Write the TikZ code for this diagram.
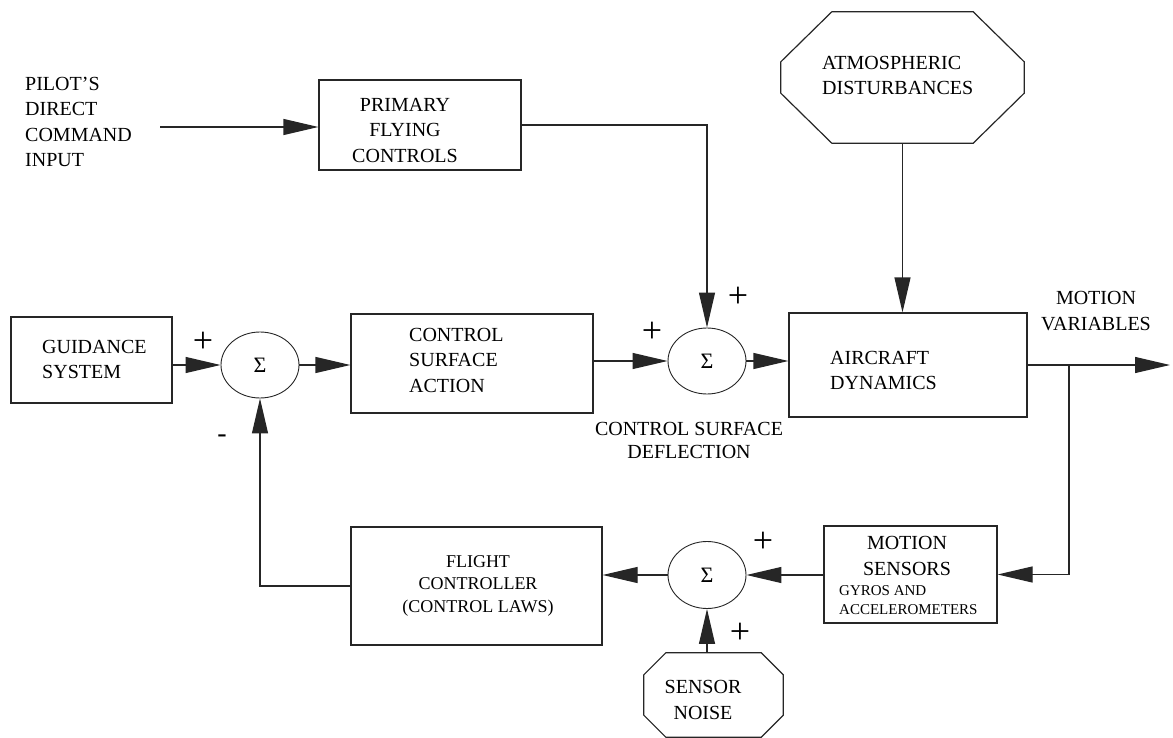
\documentclass[tikz,border=0pt]{standalone}
\usepackage{fontspec}
\setmainfont{Liberation Serif}
\usetikzlibrary{arrows.meta,shapes.geometric,calc}

\tikzset{
  ln/.style={draw=black!85, line width=1.2pt},
  arr/.style={ln, -{Triangle[length=35pt,width=16pt]}},
  blk/.style={draw=black!85, line width=1.2pt, rectangle, inner sep=0pt},
  octa/.style={rectangle, inner sep=0pt},
  sum/.style={draw=black!85, line width=0.9pt, ellipse, inner sep=0pt,
    minimum width=78pt, minimum height=66pt, font=\fontsize{22}{26}\selectfont},
  txt/.style={inner sep=0pt, font=\fontsize{20}{25.5}\selectfont},
  small/.style={inner sep=0pt, font=\fontsize{15}{19}\selectfont},
  sgn/.style={inner sep=0pt, font=\fontsize{36}{36}\selectfont},
}

% octagon outline around a named node: name, corner cut in x, corner cut in y
\newcommand\octbox[3]{%
  \draw[ln] ([xshift=#2]#1.north west) -- ([xshift=-#2]#1.north east)
    -- ([yshift=-#3]#1.north east) -- ([yshift=#3]#1.south east)
    -- ([xshift=-#2]#1.south east) -- ([xshift=#2]#1.south west)
    -- ([yshift=#3]#1.south west) -- ([yshift=-#3]#1.north west) -- cycle;}

\begin{document}
\begin{tikzpicture}[x=1pt,y=-1pt]
\path[use as bounding box] (0,0) rectangle (1173,738);

% blocks
\node[blk, minimum width=202pt, minimum height=90pt]  (pfc)  at (420,125) {};
\node[blk, minimum width=161pt, minimum height=86pt]  (guid) at (91.5,360) {};
\node[blk, minimum width=242pt, minimum height=99pt]  (csa)  at (472,363.5) {};
\node[blk, minimum width=238pt, minimum height=104pt] (acd)  at (908,365) {};
\node[blk, minimum width=173pt, minimum height=97pt]  (ms)   at (910.5,574.5) {};
\node[blk, minimum width=251pt, minimum height=118pt] (fc)   at (476.5,586) {};

% disturbance sources
\node[octa, minimum width=243pt, minimum height=131pt] (atm) at (902.5,77.5) {};
\octbox{atm}{51pt}{50pt}
\node[octa, minimum width=139pt, minimum height=84pt] (sn) at (713.5,695) {};
\octbox{sn}{22pt}{22pt}

% summing junctions
\node[sum] (s1) at (260,365) {Σ};
\node[sum] (s2) at (707,361) {Σ};
\node[sum, minimum height=67pt] (s3) at (707,575) {Σ};

% texts
\node[txt, anchor=west, align=left] (pil) at (25,122) {PILOT{\char"27}S\\DIRECT\\COMMAND\\INPUT};
\node[txt, align=center] (pfct) at (405,130) {PRIMARY\\FLYING\\CONTROLS};
\node[txt, anchor=west, align=left] (atmt) at (822,75.5) {ATMOSPHERIC\\DISTURBANCES};
\node[txt, anchor=west, align=left] (guidt) at (42,359.5) {GUIDANCE\\SYSTEM};
\node[txt, anchor=west, align=left] (csat) at (409,360) {CONTROL\\SURFACE\\ACTION};
\node[txt, anchor=west, align=left] (acdt) at (830,370.5) {AIRCRAFT\\DYNAMICS};
\node[txt, align=center] (mvt) at (1096,311) {MOTION\\VARIABLES};
\node[txt, align=center, font=\fontsize{20}{23.5}\selectfont] (csd) at (689,440.5) {CONTROL SURFACE\\DEFLECTION};
\node[txt, align=center] (mst) at (907,556) {MOTION\\SENSORS};
\node[small, anchor=west, align=left] (gyr) at (839,600.5) {GYROS AND\\ACCELEROMETERS};
\node[txt, align=center, font=\fontsize{18}{22.5}\selectfont] (fct) at (478,585.5) {FLIGHT\\CONTROLLER\\(CONTROL LAWS)};
\node[txt, align=center] (snt) at (703,700) {SENSOR\\NOISE};

% signs
\node[sgn] at (203,342) {+};
\node[sgn] at (652,332) {+};
\node[sgn] at (738,297) {+};
\node[sgn] at (763,542) {+};
\node[sgn] at (740,633) {+};
\node[inner sep=0pt, font=\fontsize{28}{28}\selectfont] at (222,439) {-};

% signal paths
\coordinate (pin) at (160,127);
\coordinate (br)  at (1069,365);
\coordinate (out) at (1170,365);

\draw[arr] (pin) -- (pin -| pfc.west);
\draw[arr] (pfc.east) -| (s2.north);
\draw[arr] (atm.south) -- (atm.south |- acd.north);
\draw[arr] (guid.east |- s1) -- (s1.west);
\draw[arr] (s1.east) -- (s1 -| csa.west);
\draw[arr] (csa.east |- s2) -- (s2.west);
\draw[arr] (s2.east) -- (s2 -| acd.west);
\draw[ln]  (acd.east) -- (br);
\draw[arr] (br) -- (out);
\draw[arr] (br) |- (ms.east);
\draw[arr] (ms.west |- s3) -- (s3.east);
\draw[arr] (s3.west) -- (s3.west -| fc.east);
\draw[arr] (s3.south |- sn.north) -- (s3.south);
\draw[arr] (fc.west) -| (s1.south);
\end{tikzpicture}
\end{document}
